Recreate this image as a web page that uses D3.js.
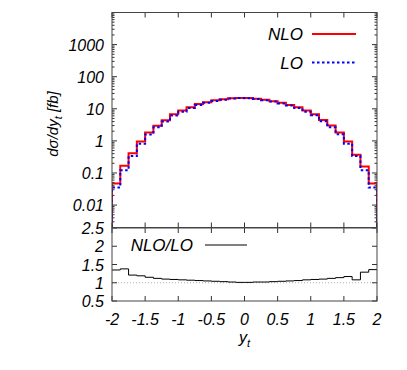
<!DOCTYPE html>
<html>
<head>
<meta charset="utf-8">
<script src="https://d3js.org/d3.v7.min.js"></script>
<style>
  body { margin: 0; background: #fff; }
  text { font-family: "Liberation Sans", Arial, sans-serif; font-style: italic; fill: #000; }
</style>
</head>
<body>
<div id="chart"></div>
<script>
// bin edges in y_t (32 bins of width 0.125)
var edges = [-2, -1.875, -1.75, -1.625, -1.5, -1.375, -1.25, -1.125, -1, -0.875, -0.75, -0.625,
             -0.5, -0.375, -0.25, -0.125, 0, 0.125, 0.25, 0.375, 0.5, 0.625, 0.75, 0.875,
             1, 1.125, 1.25, 1.375, 1.5, 1.625, 1.75, 1.875, 2];
// dsigma/dy_t [fb] per bin
var nlo = [0.047, 0.167, 0.41, 0.96, 1.83, 2.96, 4.4, 6.7, 8.8, 11.2, 14.0, 16.1, 18.3, 19.8, 21.2, 21.8,
           21.5, 20.7, 19.0, 17.3, 15.3, 13.2, 11.1, 8.8, 6.8, 4.5, 3.0, 1.83, 0.96, 0.37, 0.158, 0.047];
var lo  = [0.035, 0.121, 0.34, 0.81, 1.59, 2.64, 4.0, 6.15, 8.15, 10.5, 13.2, 15.3, 17.6, 19.2, 20.8, 21.6,
           21.3, 20.3, 18.6, 16.8, 14.7, 12.6, 10.5, 8.15, 6.24, 4.09, 2.68, 1.61, 0.82, 0.34, 0.122, 0.035];
// NLO/LO ratio per bin
var ratio = [1.35, 1.38, 1.21, 1.19, 1.15, 1.12, 1.10, 1.09, 1.08, 1.07, 1.06, 1.05, 1.04, 1.03, 1.02, 1.01,
             1.01, 1.02, 1.02, 1.03, 1.04, 1.05, 1.06, 1.08, 1.09, 1.10, 1.12, 1.14, 1.17, 1.08, 1.29, 1.36];

var xTicks = [-2, -1.5, -1, -0.5, 0, 0.5, 1, 1.5, 2];
var xTickLabels = ["-2", "-1.5", "-1", "-0.5", "0", "0.5", "1", "1.5", "2"];
var yTicks = [0.01, 0.1, 1, 10, 100, 1000];
var yTickLabels = ["0.01", "0.1", "1", "10", "100", "1000"];
var rTicks = [0.5, 1, 1.5, 2, 2.5];
var rTickLabels = ["0.5", "1", "1.5", "2", "2.5"];

var width = 407, height = 370;
var left = 112, right = 377;
var mainTop = 12.5, mainBottom = 227.5, ratioTop = 228, ratioBottom = 301;

var svg = d3.select('#chart').append('svg')
  .attr('width', width).attr('height', height);

var x = d3.scaleLinear().domain([-2, 2]).range([left, right]);
var y = d3.scaleLog().domain([0.002, 1e4]).range([mainBottom, mainTop]);
var yr = d3.scaleLinear().domain([0.5, 2.5]).range([ratioBottom, ratioTop]);

// clip paths
svg.append('clipPath').attr('id', 'clipMain').append('rect')
  .attr('x', left).attr('y', mainTop).attr('width', right - left).attr('height', mainBottom - mainTop);
svg.append('clipPath').attr('id', 'clipRatio').append('rect')
  .attr('x', left).attr('y', ratioTop).attr('width', right - left).attr('height', ratioBottom - ratioTop);

function stepPoints(vals, base) {
  var pts = [[edges[0], base]];
  vals.forEach((v, i) => { pts.push([edges[i], v]); });
  pts.push([edges[edges.length - 1], vals[vals.length - 1]]);
  pts.push([edges[edges.length - 1], base]);
  return pts;
}

var lineMain = d3.line()
  .x(d => x(d[0]))
  .y(d => y(d[1]))
  .curve(d3.curveStepAfter);

var lineRatio = d3.line()
  .x(d => x(d[0]))
  .y(d => yr(d[1]))
  .curve(d3.curveStepAfter);

// ---------- main panel ----------
var gMain = svg.append('g').attr('clip-path', 'url(#clipMain)');

gMain.append('path')
  .attr('d', lineMain(stepPoints(nlo, 0.001)))
  .attr('fill', 'none')
  .attr('stroke', '#ff0000')
  .attr('stroke-width', 2);

gMain.append('path')
  .attr('d', lineMain(stepPoints(lo, 0.001)))
  .attr('fill', 'none')
  .attr('stroke', '#0000ff')
  .attr('stroke-width', 2)
  .attr('stroke-dasharray', '2.5,2.5');

// ---------- ratio panel ----------
var gRatio = svg.append('g').attr('clip-path', 'url(#clipRatio)');

gRatio.append('line')
  .attr('x1', left).attr('x2', right)
  .attr('y1', yr(1)).attr('y2', yr(1))
  .attr('stroke', '#999').attr('stroke-width', 0.8)
  .attr('stroke-dasharray', '1,2');

var rPts = [];
ratio.forEach((v, i) => { rPts.push([edges[i], v]); });
rPts.push([edges[edges.length - 1], ratio[ratio.length - 1]]);

gRatio.append('path')
  .attr('d', lineRatio(rPts))
  .attr('fill', 'none')
  .attr('stroke', '#000')
  .attr('stroke-width', 1);

// ---------- ticks ----------
var tickColor = '#333';
var ticks = svg.append('g').attr('stroke', tickColor).attr('stroke-width', 1);

// log minor + major ticks main panel
var minor = [];
for (var e = -3; e < 4; e++) {
  for (var m = 2; m < 10; m++) {
    var v = m * Math.pow(10, e);
    if (v > 0.002 && v < 1e4) minor.push(v);
  }
}
minor.forEach(v => {
  ticks.append('line').attr('x1', left).attr('x2', left + 2.5).attr('y1', y(v)).attr('y2', y(v));
  ticks.append('line').attr('x1', right).attr('x2', right - 2.5).attr('y1', y(v)).attr('y2', y(v));
});
yTicks.forEach(v => {
  ticks.append('line').attr('x1', left).attr('x2', left + 5).attr('y1', y(v)).attr('y2', y(v));
  ticks.append('line').attr('x1', right).attr('x2', right - 5).attr('y1', y(v)).attr('y2', y(v));
});
rTicks.forEach(v => {
  ticks.append('line').attr('x1', left).attr('x2', left + 5).attr('y1', yr(v)).attr('y2', yr(v));
  ticks.append('line').attr('x1', right).attr('x2', right - 5).attr('y1', yr(v)).attr('y2', yr(v));
});
xTicks.forEach(v => {
  [mainTop, ratioTop].forEach(t => {
    ticks.append('line').attr('x1', x(v)).attr('x2', x(v)).attr('y1', t).attr('y2', t + 5);
  });
  [mainBottom, ratioBottom].forEach(b => {
    ticks.append('line').attr('x1', x(v)).attr('x2', x(v)).attr('y1', b).attr('y2', b - 5);
  });
});

// borders
svg.append('rect')
  .attr('x', left).attr('y', mainTop).attr('width', right - left).attr('height', mainBottom - mainTop)
  .attr('fill', 'none').attr('stroke', '#444').attr('stroke-width', 1);
svg.append('rect')
  .attr('x', left).attr('y', ratioTop).attr('width', right - left).attr('height', ratioBottom - ratioTop)
  .attr('fill', 'none').attr('stroke', '#444').attr('stroke-width', 1);

// ---------- tick labels ----------
svg.selectAll('.ylab').data(yTicks).enter().append('text')
  .attr('class', 'ylab')
  .attr('x', 104).attr('y', d => y(d) + 6)
  .attr('text-anchor', 'end').attr('font-size', 16)
  .text((d, i) => yTickLabels[i]);

svg.selectAll('.rlab').data(rTicks).enter().append('text')
  .attr('class', 'rlab')
  .attr('x', 104).attr('y', d => yr(d) + 6)
  .attr('text-anchor', 'end').attr('font-size', 16)
  .text((d, i) => rTickLabels[i]);

svg.selectAll('.xlab').data(xTicks).enter().append('text')
  .attr('class', 'xlab')
  .attr('x', d => x(d)).attr('y', 325)
  .attr('text-anchor', 'middle').attr('font-size', 16)
  .text((d, i) => xTickLabels[i]);

// axis titles
var xt = svg.append('text').attr('x', 239).attr('y', 343).attr('font-size', 16);
xt.append('tspan').text('y');
xt.append('tspan').attr('font-size', 11).attr('dy', 4).text('t');

var yt = svg.append('text')
  .attr('transform', 'translate(58,124) rotate(-90)')
  .attr('text-anchor', 'middle').attr('font-size', 15);
yt.append('tspan').text('dσ/dy');
yt.append('tspan').attr('font-size', 11).attr('dy', 4).text('t');
yt.append('tspan').attr('dy', -4).text(' [fb]');

// ---------- legends ----------
svg.append('text').attr('x', 303).attr('y', 40).attr('text-anchor', 'end').attr('font-size', 17).text('NLO');
svg.append('line').attr('x1', 312).attr('x2', 356).attr('y1', 34).attr('y2', 34)
  .attr('stroke', '#ff0000').attr('stroke-width', 2);

svg.append('text').attr('x', 303).attr('y', 68.5).attr('text-anchor', 'end').attr('font-size', 17).text('LO');
svg.append('line').attr('x1', 312).attr('x2', 356).attr('y1', 62.5).attr('y2', 62.5)
  .attr('stroke', '#0000ff').attr('stroke-width', 2).attr('stroke-dasharray', '2.5,2.5');

svg.append('text').attr('x', 193).attr('y', 251).attr('text-anchor', 'end').attr('font-size', 17).text('NLO/LO');
svg.append('line').attr('x1', 205).attr('x2', 247).attr('y1', 245).attr('y2', 245)
  .attr('stroke', '#000').attr('stroke-width', 1);
</script>
</body>
</html>
